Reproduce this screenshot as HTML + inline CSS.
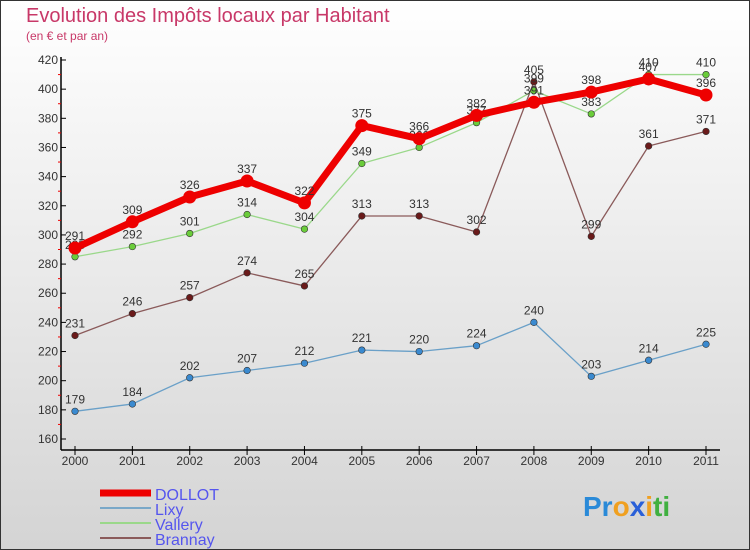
<!DOCTYPE html>
<html><head><meta charset="utf-8"><style>
body{margin:0;width:750px;height:550px;overflow:hidden}
svg{display:block;font-family:"Liberation Sans",sans-serif}
</style></head><body>
<svg id="c" width="750" height="550">
<defs><linearGradient id="bg" x1="0" y1="0" x2="0" y2="1"><stop offset="0" stop-color="#ffffff"/><stop offset="1" stop-color="#d4d4d4"/></linearGradient></defs>
<rect x="0.5" y="0.5" width="749" height="549" fill="url(#bg)" stroke="#333"/>
<text x="26" y="22" font-size="20" fill="#c83868">Evolution des Impôts locaux par Habitant</text>
<text x="26" y="40" font-size="12" fill="#c83868">(en € et par an)</text>
<g id="axes"></g><g id="series"></g><g id="legend"></g>
<text x="583" y="516" font-size="28" font-weight="bold"><tspan fill="#2a8ad8">Pr</tspan><tspan fill="#f0a020">o</tspan><tspan fill="#2a60d8">x</tspan><tspan fill="#f0a020">i</tspan><tspan fill="#40b040">ti</tspan></text>
</svg>
<script>
const years=[2000,2001,2002,2003,2004,2005,2006,2007,2008,2009,2010,2011];
const yTicks=[160,180,200,220,240,260,280,300,320,340,360,380,400,420];
const dollot=[291,309,326,337,322,375,366,382,391,398,407,396];
const lixy=[179,184,202,207,212,221,220,224,240,203,214,225];
const vallery=[285,292,301,314,304,349,360,377,399,383,410,410];
const brannay=[231,246,257,274,265,313,313,302,405,299,361,371];
const NS='http://www.w3.org/2000/svg';
const X=i=>75+i*(706-75)/11;
const Y=v=>439-(v-160)*(439-60)/260;
function mk(tag,at,par){const e=document.createElementNS(NS,tag);for(const k in at)e.setAttribute(k,at[k]);par.appendChild(e);return e;}
const ax=document.getElementById('axes');
let l=mk('line',{x1:61,y1:57,x2:61,y2:450,stroke:'#000','stroke-width':1.5},ax);


l=mk('line',{x1:61,y1:450,x2:720,y2:450,stroke:'#000','stroke-width':1.5},ax);


yTicks.forEach((v,i)=>{
 mk('line',{x1:61,y1:Y(v),x2:66,y2:Y(v),stroke:'#000'},ax);
 if(i<yTicks.length-1)mk('line',{x1:58,y1:Y(v+10),x2:61,y2:Y(v+10),stroke:'#e00'},ax);
 const t=mk('text',{x:58,y:Y(v)+4,'font-size':12,fill:'#333','text-anchor':'end'},ax);t.textContent=v;
 
 
});
years.forEach((y,i)=>{
 mk('line',{x1:X(i),y1:446,x2:X(i),y2:455,stroke:'#000'},ax);
 const t=mk('text',{x:X(i),y:465,'font-size':12,fill:'#333','text-anchor':'middle'},ax);t.textContent=y;
 
 
});
const sg=document.getElementById('series');
function series(data,color,dot,w,r,name){
 const g=mk('g',{},sg);
 
 
 mk('polyline',{points:data.map((v,i)=>X(i)+','+Y(v)).join(' '),fill:'none',stroke:color,'stroke-width':w,'stroke-linejoin':'round'},g);
 data.forEach((v,i)=>{
  const c=mk('circle',{cx:X(i),cy:Y(v),r:r,fill:dot,stroke:'#333','stroke-width':r>5?0:0.6},g);
  
  
  const t=mk('text',{x:X(i),y:Y(v)-8,'font-size':12,fill:'#333','text-anchor':'middle'},g);t.textContent=v;
  
  
 });
}
series(brannay,'#8a5a5a','#6a1a1a',1.3,3.3,'brannay');
series(lixy,'#6aa0c8','#3a8ad0',1.3,3.3,'lixy');
series(vallery,'#9ad88a','#6acc3a',1.3,3.3,'vallery');
series(dollot,'#ee0000','#ee0000',7,6.5,'dollot');
const lg=document.getElementById('legend');
const names=['DOLLOT','Lixy','Vallery','Brannay'],cols=['#ee0000','#7aa8c8','#9ad88a','#8a5a5a'],ws=[7,2,2,2];
names.forEach((n,i)=>{
 const y=493+i*15;
 const g=mk('g',{},lg);
 
 
 mk('line',{x1:100,y1:y,x2:151,y2:y,stroke:cols[i],'stroke-width':ws[i]},g);
 const t=mk('text',{x:155,y:y+7,'font-size':16,fill:'#5555ee'},g);t.textContent=n;
});
</script>
</body></html>
